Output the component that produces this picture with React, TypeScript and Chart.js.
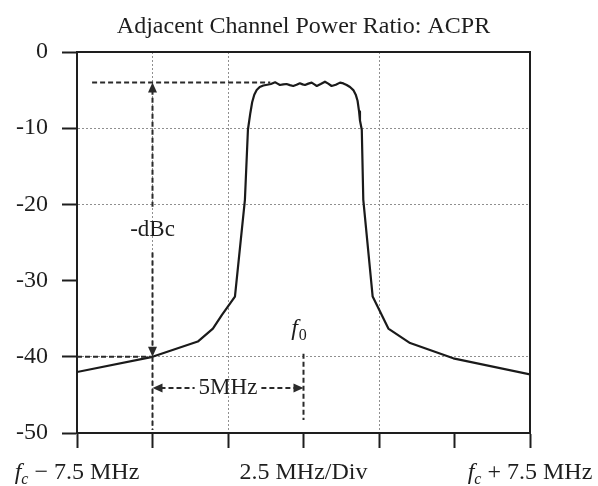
import React, { useEffect, useRef } from 'react';
import { Chart, registerables } from 'chart.js';

Chart.register(...registerables);

// ---- Data ----
const titleText = 'Adjacent Channel Power Ratio: ACPR';

const freqMHz = [
  -7.5, -5.0, -3.5, -3.0, -2.7, -2.27, -1.94, -1.84, -1.76, -1.70, -1.63, -1.55,
  -1.45, -1.33, -1.2, -1.08, -0.94, -0.86, -0.78, -0.67, -0.56, -0.45, -0.34, -0.23,
  -0.12, -0.03, 0.05, 0.16, 0.27, 0.36, 0.44, 0.57, 0.71, 0.82, 0.93, 1.07,
  1.21, 1.32, 1.43, 1.54, 1.65, 1.73, 1.79, 1.84, 1.87, 1.93, 1.98, 2.29,
  2.81, 3.53, 4.96, 7.5,
];
const powerDb = [
  -42.0, -40.0, -38.0, -36.3, -34.5, -32.1, -19.4, -10.2, -8.0, -6.6, -5.6, -5.0,
  -4.6, -4.4, -4.3, -4.2, -3.98, -4.15, -4.33, -4.25, -4.2, -4.35, -4.46, -4.3,
  -4.1, -4.25, -4.33, -4.15, -4.02, -4.25, -4.46, -4.2, -3.9, -4.15, -4.46, -4.3,
  -4.02, -4.12, -4.33, -4.6, -5.0, -5.6, -6.4, -7.8, -9.0, -10.2, -19.4, -32.1,
  -36.3, -38.2, -40.2, -42.3,
];

const yTickValues = [0, -10, -20, -30, -40, -50];
const yGridValues = [-10, -20, -40];
const xGridValues = [-5, -2.5, 2.5];

const xLabelValues = [-7.5, 0, 7.5];
const xLabelTexts = [' − 7.5 MHz', '2.5 MHz/Div', ' + 7.5 MHz'];
const xLabelHasFc = [true, false, true];

// annotation values (in axis units)
const carrierLevelDb = -4;
const adjacentLevelDb = -40;
const offsetFreqMHz = -5;
const centerFreqMHz = 0;
const carrierLineFrom = -7.0;
const carrierLineTo = -1.1;
const dbcUpArrowFrom = -20.3;
const dbcDownArrowFrom = -26.3;
const dbcLabelLevel = -23.4;
const dbcLabelText = '-dBc';
const spacingLevelDb = -44.1;
const spacingText = '5MHz';
const offsetDropTo = -49.6;
const f0LineFrom = -39.6;
const f0LineTo = -48.3;
const f0LabelFreq = -0.15;
const f0LabelLevel = -36.3;

// ---- Styles ----
const serif = '"Liberation Serif", "Times New Roman", serif';
const ink = '#1e1e1e';
const gridColor = '#8f8f8f';
const clear = 'rgba(0,0,0,0)';

const arrowHead = (ctx: CanvasRenderingContext2D, tx: number, ty: number, dx: number, dy: number) => {
  const len = 10;
  const half = 4.5;
  const bx = tx - dx * len;
  const by = ty - dy * len;
  ctx.beginPath();
  ctx.moveTo(tx, ty);
  ctx.lineTo(bx - dy * half, by + dx * half);
  ctx.lineTo(bx + dy * half, by - dx * half);
  ctx.closePath();
  ctx.fill();
};

const annotationPlugin = {
  id: 'acprAnnotations',
  afterDatasetsDraw(chart: any) {
    const { ctx, scales } = chart;
    const xs = scales.x;
    const ys = scales.y;
    const px = (v: number) => xs.getPixelForValue(v);
    const py = (v: number) => ys.getPixelForValue(v);
    ctx.save();
    ctx.strokeStyle = '#2a2a2a';
    ctx.fillStyle = '#2a2a2a';
    ctx.lineWidth = 2;
    const dashed = (x1: number, y1: number, x2: number, y2: number) => {
      ctx.setLineDash([5, 3]);
      ctx.beginPath();
      ctx.moveTo(x1, y1);
      ctx.lineTo(x2, y2);
      ctx.stroke();
      ctx.setLineDash([]);
    };
    dashed(px(carrierLineFrom), py(carrierLevelDb), px(carrierLineTo), py(carrierLevelDb));
    dashed(px(-7.5), py(adjacentLevelDb), px(offsetFreqMHz), py(adjacentLevelDb));
    const ax = px(offsetFreqMHz);
    dashed(ax, py(dbcUpArrowFrom), ax, py(carrierLevelDb) + 8);
    arrowHead(ctx, ax, py(carrierLevelDb), 0, -1);
    dashed(ax, py(dbcDownArrowFrom), ax, py(adjacentLevelDb) - 8);
    arrowHead(ctx, ax, py(adjacentLevelDb), 0, 1);
    dashed(ax, py(adjacentLevelDb), ax, py(offsetDropTo));
    const cx = px(centerFreqMHz);
    dashed(cx, py(f0LineFrom), cx, py(f0LineTo));
    ctx.font = `23px ${serif}`;
    ctx.fillStyle = ink;
    ctx.textAlign = 'center';
    ctx.textBaseline = 'middle';
    ctx.fillText(dbcLabelText, ax, py(dbcLabelLevel));
    const sy = py(spacingLevelDb);
    const midX = (ax + cx) / 2;
    const tw = ctx.measureText(spacingText).width;
    ctx.fillText(spacingText, midX, sy);
    ctx.fillStyle = '#2a2a2a';
    dashed(ax + 8, sy, midX - tw / 2 - 4, sy);
    dashed(midX + tw / 2 + 4, sy, cx - 8, sy);
    arrowHead(ctx, ax, sy, -1, 0);
    arrowHead(ctx, cx, sy, 1, 0);
    ctx.fillStyle = ink;
    ctx.textAlign = 'left';
    ctx.textBaseline = 'alphabetic';
    const fx = px(f0LabelFreq);
    const fy = py(f0LabelLevel) + 6;
    ctx.font = `italic 24px ${serif}`;
    const fw = ctx.measureText('f').width;
    ctx.font = `16px ${serif}`;
    const zw = ctx.measureText('0').width;
    const startX = fx - (fw + zw + 1) / 2;
    ctx.font = `italic 24px ${serif}`;
    ctx.fillText('f', startX, fy);
    ctx.font = `16px ${serif}`;
    ctx.fillText('0', startX + fw + 1, fy + 5);
    ctx.restore();
  },
};

const xLabelPlugin = {
  id: 'acprXLabels',
  afterDraw(chart: any) {
    const { ctx, scales, chartArea } = chart;
    const xs = scales.x;
    const baseY = chartArea.bottom + 46;
    ctx.save();
    ctx.fillStyle = ink;
    ctx.textBaseline = 'alphabetic';
    ctx.textAlign = 'left';
    xLabelValues.forEach((v, i) => {
      const parts: { t: string; font: string; dy: number }[] = [];
      if (xLabelHasFc[i]) {
        parts.push({ t: 'f', font: `italic 24px ${serif}`, dy: 0 });
        parts.push({ t: 'c', font: `italic 16px ${serif}`, dy: 5 });
      }
      parts.push({ t: xLabelTexts[i], font: `24px ${serif}`, dy: 0 });
      let total = 0;
      const widths = parts.map((p) => {
        ctx.font = p.font;
        const w = ctx.measureText(p.t).width;
        total += w;
        return w;
      });
      let cur = xs.getPixelForValue(v) - total / 2;
      parts.forEach((p, j) => {
        ctx.font = p.font;
        ctx.fillText(p.t, cur, baseY + p.dy);
        cur += widths[j];
      });
    });
    ctx.restore();
  },
};

export default function App() {
  const ref = useRef<HTMLCanvasElement | null>(null);

  useEffect(() => {
    document.body.style.margin = '0';
    const canvas = ref.current;
    if (!canvas) return;
    const chart = new Chart(canvas, {
      type: 'line',
      data: {
        datasets: [
          {
            data: freqMHz.map((f, i) => ({ x: f, y: powerDb[i] })),
            borderColor: '#1a1a1a',
            borderWidth: 2.2,
            borderJoinStyle: 'round',
            pointRadius: 0,
            fill: false,
            tension: 0,
          },
        ],
      },
      options: {
        responsive: false,
        animation: false,
        devicePixelRatio: 1,
        layout: { padding: { left: 0, right: 68, top: 0, bottom: 0 } },
        plugins: {
          legend: { display: false },
          tooltip: { enabled: false },
          title: {
            display: true,
            text: titleText,
            fullSize: false,
            color: ink,
            font: { family: serif, size: 24, weight: 'normal', lineHeight: 1.2 },
            padding: { top: 12.6, bottom: 10.6 },
          },
        },
        scales: {
          x: {
            type: 'linear',
            position: 'bottom',
            min: -7.5,
            max: 7.5,
            ticks: { stepSize: 2.5, autoSkip: false, maxRotation: 0, callback: () => '' },
            grid: {
              color: (c: any) => (c.tick && xGridValues.includes(c.tick.value) ? gridColor : clear),
              lineWidth: 1,
              tickColor: ink,
              tickWidth: 2,
              tickLength: 15,
              tickBorderDash: [],
            },
            border: { color: ink, width: 2, dash: [2, 2] },
            afterFit: (s: any) => {
              s.height = 53;
            },
          },
          y: {
            type: 'linear',
            position: 'left',
            min: -50,
            max: 0,
            afterBuildTicks: (s: any) => {
              s.ticks = yTickValues.map((v) => ({ value: v }));
            },
            ticks: {
              color: ink,
              padding: 14,
              font: { family: serif, size: 24 },
            },
            grid: {
              color: (c: any) => (c.tick && yGridValues.includes(c.tick.value) ? gridColor : clear),
              lineWidth: 1,
              tickColor: ink,
              tickWidth: 2,
              tickLength: 15,
              tickBorderDash: [],
            },
            border: { color: ink, width: 2, dash: [2, 2] },
            afterFit: (s: any) => {
              s.width = 77;
            },
          },
          x2: {
            type: 'linear',
            position: 'top',
            display: true,
            min: -7.5,
            max: 7.5,
            ticks: { display: false },
            grid: { drawOnChartArea: false, drawTicks: false },
            border: { color: ink, width: 2 },
            afterFit: (s: any) => {
              s.height = 0;
            },
          },
          y2: {
            type: 'linear',
            position: 'right',
            display: true,
            min: -50,
            max: 0,
            ticks: { display: false },
            grid: { drawOnChartArea: false, drawTicks: false },
            border: { color: ink, width: 2 },
            afterFit: (s: any) => {
              s.width = 0;
            },
          },
        },
      },
      plugins: [annotationPlugin, xLabelPlugin],
    } as any);
    return () => chart.destroy();
  }, []);

  return (
    <div style={{ width: 598, height: 486, background: '#fff' }}>
      <canvas ref={ref} width={598} height={486} style={{ display: 'block' }} />
    </div>
  );
}
